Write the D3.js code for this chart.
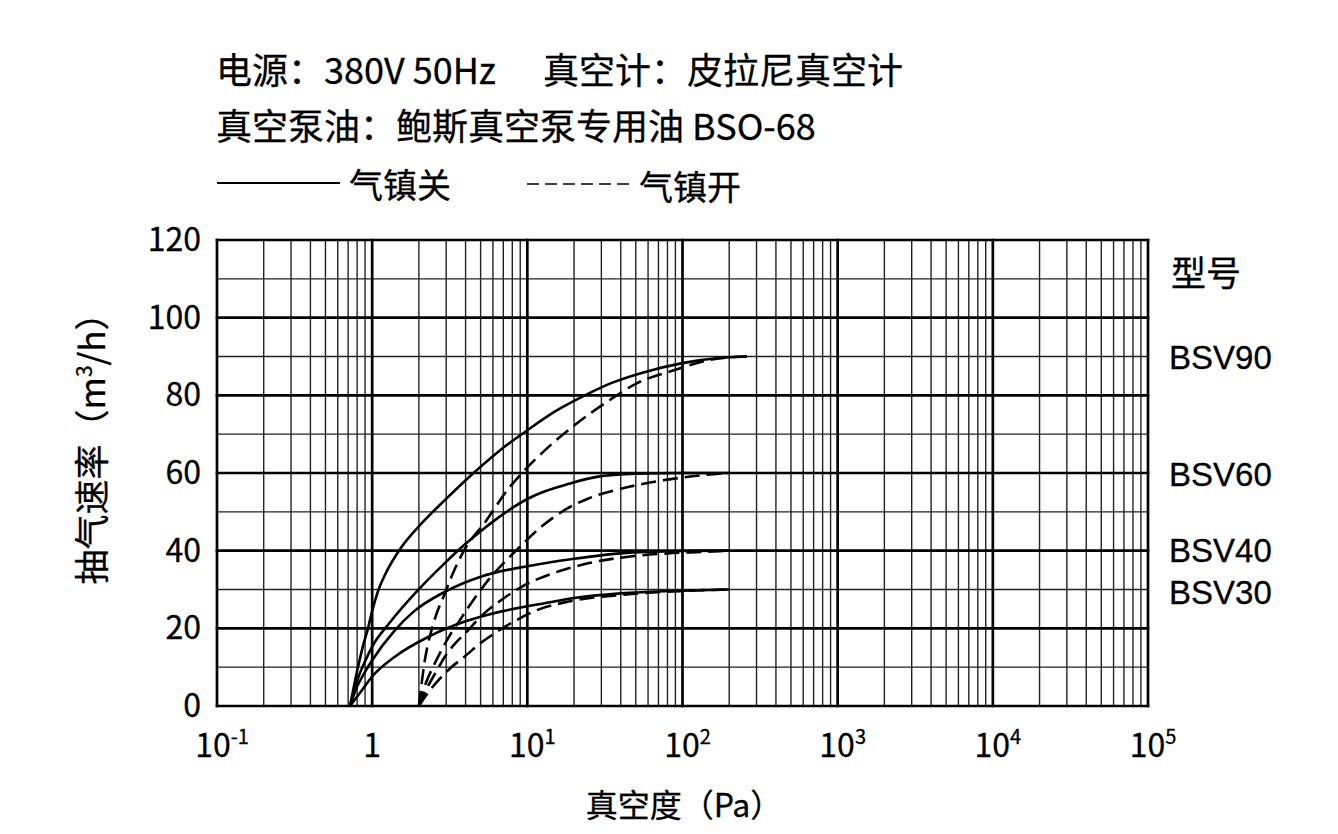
<!DOCTYPE html>
<html lang="zh">
<head>
<meta charset="UTF-8">
<title>抽气速率曲线</title>
<script src="https://d3js.org/d3.v7.min.js"></script>
<style>
  body { margin: 0; background: #fff; }
  text { font-family: "Noto Sans CJK SC", "Noto Sans", sans-serif; fill: #000; stroke: #000; stroke-width: 0.3px; }
  text.mlab { font-family: "Liberation Sans", "Noto Sans", sans-serif; }
</style>
</head>
<body>
<script>
// pumping speed curves, [pressure Pa, speed m3/h]
// gas ballast closed (solid)
const off90 = [[0.72,0],[0.8,9],[0.88,16],[0.94,20],[1.0,24.5],[1.1,30],[1.21,33.8],[1.55,41],[2.08,47],[2.94,53],[4.5,60],[6.5,65.5],[10,71],[15,75.8],[23.5,80],[35,83.2],[56,85.9],[100,88.3],[170,89.6],[260,90]];
const off60 = [[0.72,0],[0.8,6.5],[0.9,11.5],[1.0,15.3],[1.3,21.5],[1.98,29.9],[2.94,36.8],[3.93,41.5],[4.96,44.9],[6.5,48.5],[8,51],[10,53.3],[13,55.3],[18.4,57.2],[28,59],[50,59.8],[100,60],[200,60]];
const off40 = [[0.72,0],[0.8,5],[0.9,8.8],[1.0,11.8],[1.4,19.5],[1.85,24.3],[2.94,29.4],[5,33.3],[10,36],[12.7,36.7],[20,37.9],[40,39.3],[100,39.9],[200,40]];
const off30 = [[0.72,0],[0.85,3.8],[1.0,7.6],[1.4,12.7],[2.3,17.8],[4,21.8],[5,23],[10,25.7],[12.7,26.4],[20,27.8],[40,29],[100,29.7],[200,30]];
// gas ballast open (dashed)
const on90 = [[2,0],[2.17,11],[2.52,22.1],[2.94,29],[3.3,34],[3.93,40.2],[5.4,47.6],[7.74,56.5],[9,59.5],[12.7,65.5],[20.3,72.4],[34,78.8],[50.7,83.1],[87,86.4],[158,89.3],[260,90]];
const on60 = [[2,0],[2.2,5.5],[2.5,10.5],[2.8,14.4],[3.2,18.5],[3.67,22.1],[4.2,25.6],[5.6,32.4],[8.3,39.7],[12.7,46.6],[18,50.8],[25,53.5],[46,56.5],[80,58.3],[140,59.5],[200,60]];
const on40 = [[2,0],[2.25,4.5],[2.6,9],[2.94,12.7],[3.5,16.5],[4,18.8],[5,23],[7.2,28],[9,30.5],[14.7,34.2],[25,36.8],[46,38.5],[80,39.3],[140,39.7],[200,40]];
const on30 = [[2,0],[2.3,3.5],[2.74,7.1],[3.2,9.8],[3.93,12.7],[5,16.2],[6.36,19.1],[8,21.5],[10.9,24.3],[18.4,26.9],[40,28.6],[75,29.4],[130,29.8],[200,30]];

const models = ["BSV90", "BSV60", "BSV40", "BSV30"];
const yTicks = [0, 20, 40, 60, 80, 100, 120];
const decadeExp = [-1, 0, 1, 2, 3, 4, 5];

const W = 1338, H = 834;
const svg = d3.select("body").append("svg").attr("width", W).attr("height", H);

const x = d3.scaleLog().domain([0.1, 1e5]).range([217, 1148]);
const y = d3.scaleLinear().domain([0, 120]).range([706, 240]);

// header text
svg.append("text").attr("x", 216).attr("y", 84).style("font-size", "36px")
  .text("电源：380V 50Hz");
svg.append("text").attr("x", 543).attr("y", 84).style("font-size", "36px")
  .text("真空计：皮拉尼真空计");
svg.append("text").attr("x", 216).attr("y", 140).style("font-size", "36px")
  .text("真空泵油：鲍斯真空泵专用油 BSO-68");

// legend
svg.append("line").attr("x1", 217).attr("x2", 340).attr("y1", 183).attr("y2", 183)
  .attr("stroke", "#000").attr("stroke-width", 2.2);
svg.append("text").attr("x", 349).attr("y", 198).style("font-size", "34px").text("气镇关");
svg.append("line").attr("x1", 527).attr("x2", 632).attr("y1", 184).attr("y2", 184)
  .attr("stroke", "#000").attr("stroke-width", 1.6).attr("stroke-dasharray", "12,6");
svg.append("text").attr("x", 639).attr("y", 200).style("font-size", "34px").text("气镇开");

// grid
const grid = svg.append("g");
const minor = [];
decadeExp.slice(0, -1).forEach(e => {
  for (let k = 2; k <= 9; k++) minor.push(k * Math.pow(10, e));
});
grid.selectAll(".vminor").data(minor).enter().append("line")
  .attr("x1", d => x(d)).attr("x2", d => x(d))
  .attr("y1", y(0)).attr("y2", y(120))
  .attr("stroke", "#222").attr("stroke-width", 1.4);
const yMinor = d3.range(10, 120, 20);
grid.selectAll(".hminor").data(yMinor).enter().append("line")
  .attr("x1", x(0.1)).attr("x2", x(1e5))
  .attr("y1", d => y(d)).attr("y2", d => y(d))
  .attr("stroke", "#222").attr("stroke-width", 1.4);
grid.selectAll(".vmajor").data(decadeExp).enter().append("line")
  .attr("x1", d => x(Math.pow(10, d))).attr("x2", d => x(Math.pow(10, d)))
  .attr("y1", y(0) + 1.3).attr("y2", y(120) - 1.3)
  .attr("stroke", "#000").attr("stroke-width", 2.7);
grid.selectAll(".hmajor").data(yTicks).enter().append("line")
  .attr("x1", x(0.1) - 1.3).attr("x2", x(1e5) + 1.3)
  .attr("y1", d => y(d)).attr("y2", d => y(d))
  .attr("stroke", "#000").attr("stroke-width", 2.7);

// y tick labels
svg.selectAll(".ylab").data(yTicks).enter().append("text")
  .attr("x", 201).attr("y", d => y(d)).attr("dy", "0.34em")
  .attr("text-anchor", "end").style("font-size", "32px")
  .text(d => d);

// x tick labels
const xl = svg.selectAll(".xlab").data(decadeExp).enter().append("text")
  .attr("x", d => x(Math.pow(10, d)) + (d === 0 ? 0 : 5)).attr("y", 757)
  .attr("text-anchor", "middle").style("font-size", "32px");
xl.append("tspan").text(d => d === 0 ? "1" : "10");
xl.filter(d => d !== 0).append("tspan")
  .attr("dy", -13).style("font-size", "20px").text(d => d);

// axis titles
svg.append("text").attr("x", 684).attr("y", 817).attr("text-anchor", "middle")
  .style("font-size", "32px").text("真空度（Pa）");
const yt = svg.append("text").attr("transform", "translate(105,440) rotate(-90)")
  .attr("text-anchor", "middle").style("font-size", "35px");
yt.append("tspan").text("抽气速率（m");
yt.append("tspan").attr("dy", -13).style("font-size", "21px").text("3");
yt.append("tspan").attr("dy", 13).text("/h）");

// right labels
svg.append("text").attr("x", 1171).attr("y", 286).style("font-size", "35px").text("型号");
const labY = [357, 474, 550, 592];
svg.selectAll(".mlab").data(models).enter().append("text")
  .attr("class", "mlab")
  .attr("x", 1169).attr("y", (d, i) => labY[i]).attr("dy", "0.36em")
  .style("font-size", "33px").text(d => d);

// curves
const line = d3.line().x(d => x(d[0])).y(d => y(d[1])).curve(d3.curveMonotoneX);
const solid = [off90, off60, off40, off30];
const dashed = [on90, on60, on40, on30];
svg.selectAll(".off").data(solid).enter().append("path")
  .attr("d", line).attr("fill", "none").attr("stroke", "#000")
  .attr("stroke-width", 2.6);
svg.selectAll(".on").data(dashed).enter().append("path")
  .attr("d", line).attr("fill", "none").attr("stroke", "#000")
  .attr("stroke-width", 2.6).attr("stroke-dasharray", "15,7");
</script>
</body>
</html>
